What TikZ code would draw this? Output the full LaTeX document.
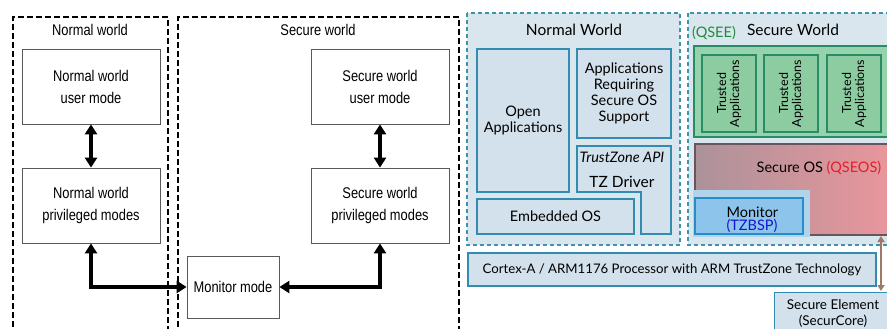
\documentclass[tikz,border=0pt]{standalone}
\usepackage{fontspec}
\setmainfont{Lato}
\newfontfamily\narrowsans[FakeStretch=0.83]{Liberation Sans}
\usetikzlibrary{arrows.meta, calc}
\definecolor{panelfill}{RGB}{218,230,238}
\definecolor{boxfill}{RGB}{210,225,236}
\definecolor{boxline}{RGB}{50,140,175}
\definecolor{dashteal}{RGB}{60,150,170}
\definecolor{teefill}{RGB}{150,210,172}
\definecolor{tafill}{RGB}{140,204,160}
\definecolor{taline}{RGB}{40,140,100}
\definecolor{osleft}{RGB}{172,146,154}
\definecolor{osright}{RGB}{236,150,156}
\definecolor{osline}{RGB}{100,88,94}
\definecolor{monouter}{RGB}{176,212,236}
\definecolor{moninner}{RGB}{140,196,236}
\definecolor{monline}{RGB}{40,140,200}
\definecolor{qseecolor}{RGB}{30,140,60}
\definecolor{qseoscolor}{RGB}{230,30,40}
\definecolor{tzbspcolor}{RGB}{20,20,210}
\definecolor{secarrow}{RGB}{160,120,104}

\tikzset{
  modebox/.style={draw=black!65, line width=0.8pt, fill=white, align=center, inner sep=0pt,
    minimum width=138pt, minimum height=75pt,
    font=\narrowsans\fontsize{15.5}{22}\selectfont},
  worldframe/.style={draw=black, line width=1.6pt, dash pattern=on 6pt off 3pt},
  worldtitle/.style={font=\narrowsans\fontsize{15.5}{18}\selectfont},
  twoway/.style={line width=3.3pt, {Triangle[length=10pt,width=12pt]}-{Triangle[length=10pt,width=12pt]}},
  tzpanel/.style={draw=dashteal, fill=panelfill, line width=1.3pt, dash pattern=on 4pt off 3pt},
  tzbox/.style={draw=boxline, fill=boxfill, line width=1.3pt, align=center, inner sep=0pt,
    font=\fontsize{14.5}{16}\selectfont},
  tabox/.style={draw=taline, fill=tafill, line width=1.3pt, rotate=90, align=center, inner sep=0pt,
    minimum width=77pt, minimum height=54pt, font=\fontsize{12.5}{13}\selectfont},
  tztext/.style={font=\fontsize{14.5}{16}\selectfont, align=center}
}

\begin{document}
\begin{tikzpicture}[x=1pt, y=-1pt]
  \useasboundingbox (0,0) rectangle (887,329);
  \clip (0,0) rectangle (887,329);

  % ---- left: processor modes ----
  \draw[worldframe] (13,345) -- (13,17) -- (168,17) -- (168,345);
  \draw[worldframe] (178,345) -- (178,17) -- (459,17) -- (459,345);
  \node[worldtitle] (nwtitle) at (90,30) {Normal world};
  \node[worldtitle] (swtitle) at (318,30) {Secure world};

  \node[modebox] (nwuser) at (91,86.5) {Normal world\\user mode};
  \node[modebox] (nwpriv) at (91,205.5) {Normal world\\privileged modes};
  \node[modebox] (swuser) at (380,86.5) {Secure world\\user mode};
  \node[modebox] (swpriv) at (380,205.5) {Secure world\\privileged modes};
  \node[modebox, minimum width=92pt, minimum height=62pt] (monmode) at (233,287) {Monitor mode};

  \draw[twoway] (nwuser) -- (nwpriv);
  \draw[twoway] (swuser) -- (swpriv);
  \draw[twoway] (nwpriv.south) |- (monmode.west);
  \draw[twoway] (swpriv.south) |- (monmode.east);

  % ---- right: TrustZone software stack ----
  % normal world
  \draw[tzpanel] (467,13) rectangle (680,245);
  \node[tztext, font=\fontsize{15.5}{17}\selectfont] (nwhead) at (574,30) {Normal World};
  \node[tzbox, minimum width=92pt, minimum height=143pt] (openapps) at (523,120.5) {Open\\Applications};
  \node[tzbox, minimum width=94pt, minimum height=89pt] (reqapps) at (624,93.5) {Applications\\Requiring\\Secure OS\\Support};
  \draw[draw=boxline, fill=boxfill, line width=1.3pt]
    (577,146) -- (671,146) -- (671,234) -- (641,234) -- (641,192) -- (577,192) -- cycle;
  \node[tztext] (tzapi) at (622,157) {\itshape TrustZone API};
  \node[tztext, font=\fontsize{15.5}{17}\selectfont] (tzdrv) at (622,182) {TZ Driver};
  \node[tzbox, minimum width=157pt, minimum height=35pt] (embos) at (555.5,216.5) {Embedded OS};

  % secure world
  \draw[tzpanel] (688,13) rectangle (900,245);
  \node[tztext, text=qseecolor] (qsee) at (714,33) {(QSEE)};
  \node[tztext, font=\fontsize{15.5}{17}\selectfont] (swhead) at (793,30) {Secure World};
  \draw[draw=taline, fill=teefill, line width=1.3pt] (694,46) rectangle (900,137);
  \foreach \x/\n in {729/taA, 791/taB, 854/taC}
    \node[tabox] (\n) at (\x,93.5) {Trusted\\Applications};
  \shade[left color=osleft, right color=osright, draw=osline, line width=1.3pt]
    (695,144) rectangle (900,235);
  \node[tztext, font=\fontsize{14.5}{17}\selectfont] (secos) at (819,168) {Secure OS \textcolor{qseoscolor}{(QSEOS)}};
  \fill[monouter] (693,190) rectangle (810,237);
  \node[tzbox, draw=monline, fill=moninner, minimum width=108pt, minimum height=36pt] (monitor) at (749,216) {};
  \node[tztext, align=left, anchor=west] (montext) at (723,220) {Monitor\\[-3pt]\textcolor{tzbspcolor}{(TZBSP)}};

  % processor and secure element
  \node[tzbox, minimum width=408pt, minimum height=33pt, font=\fontsize{13.2}{15}\selectfont] (cortex) at (672,269.5)
    {Cortex-A / ARM1176 Processor with ARM TrustZone Technology};
  \node[tzbox, minimum width=126pt, minimum height=48pt, anchor=north west] (secelem) at (774,292) {};
  \node[tztext, font=\fontsize{13.5}{16}\selectfont] (setext) at (833,314) {Secure Element\\(SecurCore)};
  \coordinate (seTop) at (881,236);
  \coordinate (seBot) at (881,291);
  \draw[secarrow, line width=1.6pt, {Triangle[length=6pt,width=7pt]}-{Triangle[length=6pt,width=7pt]}] (seTop) -- (seBot);
\end{tikzpicture}
\end{document}
